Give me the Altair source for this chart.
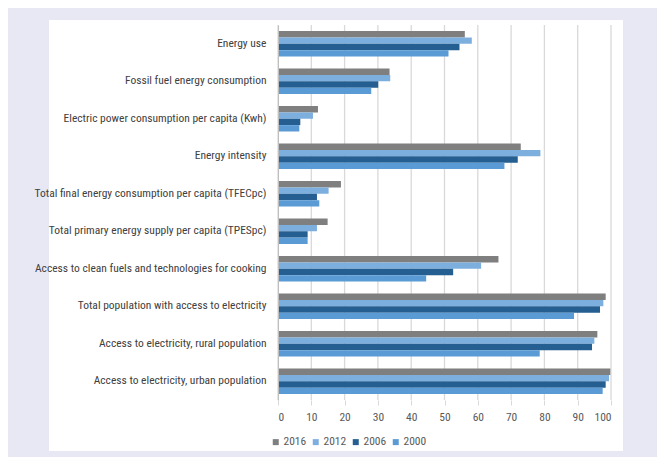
import altair as alt
import pandas as pd

categories = [
    "Energy use",
    "Fossil fuel energy consumption",
    "Electric power consumption per capita (Kwh)",
    "Energy intensity",
    "Total final energy consumption per capita (TFECpc)",
    "Total primary energy supply per capita (TPESpc)",
    "Access to clean fuels and technologies for cooking",
    "Total population with access to electricity",
    "Access to electricity, rural population",
    "Access to electricity, urban population",
]
years = ["2016", "2012", "2006", "2000"]
v2016 = [56.1, 33.5, 12.0, 72.9, 18.9, 14.9, 66.2, 98.4, 95.9, 99.8]
v2012 = [58.2, 33.7, 10.5, 78.8, 15.2, 11.7, 61.0, 97.7, 95.0, 99.4]
v2006 = [54.5, 30.1, 6.7, 72.0, 11.7, 8.9, 52.6, 96.7, 94.3, 98.4]
v2000 = [51.2, 28.0, 6.4, 68.0, 12.4, 8.9, 44.5, 88.9, 78.6, 97.5]
colors = ["#7f7f7f", "#7dafde", "#255e91", "#5b9bd5"]
x_ticks = [0, 10, 20, 30, 40, 50, 60, 70, 80, 90, 100]

series = {"2016": v2016, "2012": v2012, "2006": v2006, "2000": v2000}
rows = []
for y in years:
    for c, v in zip(categories, series[y]):
        rows.append({"category": c, "year": y, "value": v})
df = pd.DataFrame(rows)
ticks_df = pd.DataFrame({"tick": x_ticks})

FONT = "Liberation Sans Narrow, Arial Narrow, Roboto Condensed, Liberation Sans, sans-serif"
W, H = 333, 375

x_axis = alt.Axis(
    values=x_ticks,
    grid=False,
    domain=False,
    ticks=True,
    tickSize=5,
    tickColor="#d9d9d9",
    labelPadding=6,
    labelOverlap=False,
    labelFont=FONT,
    labelFontSize=11.5,
    labelColor="#595959",
    zindex=1,
)

panel = alt.Chart(alt.Data(values=[{"k": 1}])).mark_rect(color="white").encode(
    x=alt.value(-229), x2=alt.value(345), y=alt.value(-5), y2=alt.value(426)
)

grid = alt.Chart(ticks_df).mark_rule(color="#d9d9d9", strokeWidth=1.3).encode(
    x=alt.X("tick:Q", scale=alt.Scale(domain=[0, 100], nice=False), title=None, axis=x_axis),
    y=alt.value(0),
    y2=alt.value(H),
)

bars = alt.Chart(df).mark_bar().encode(
    x=alt.X(
        "value:Q",
        scale=alt.Scale(domain=[0, 100], nice=False),
        title=None,
        axis=x_axis,
    ),
    y=alt.Y(
        "category:N",
        sort=categories,
        title=None,
        scale=alt.Scale(paddingInner=0.32, paddingOuter=0.16),
        axis=alt.Axis(
            ticks=False,
            domain=True,
            domainColor="#bfbfbf",
            labelPadding=12,
            labelFont=FONT,
            labelFontSize=11.5,
            labelColor="#404040",
            labelLimit=300,
            zindex=1,
        ),
    ),
    yOffset=alt.YOffset("year:N", sort=years, scale=alt.Scale(paddingInner=0)),
    color=alt.Color(
        "year:N",
        sort=years,
        scale=alt.Scale(domain=years, range=colors),
        legend=alt.Legend(
            title=None,
            orient="none",
            direction="horizontal",
            legendX=-8,
            legendY=411,
            symbolType="square",
            symbolSize=36,
            symbolStrokeWidth=0,
            labelFont=FONT,
            labelFontSize=11.5,
            labelColor="#595959",
            labelOffset=2,
            columnPadding=3,
        ),
    ),
)

chart = (
    alt.layer(panel, grid, bars)
    .properties(
        width=W,
        height=H,
        background="#e8e8f5",
        autosize=alt.AutoSizeParams(type="none"),
        padding={"left": 270, "top": 17, "right": 46, "bottom": 57},
    )
    .configure_view(strokeWidth=0)
)

chart.save("out.html", embed_options={"renderer": "svg", "actions": False})
